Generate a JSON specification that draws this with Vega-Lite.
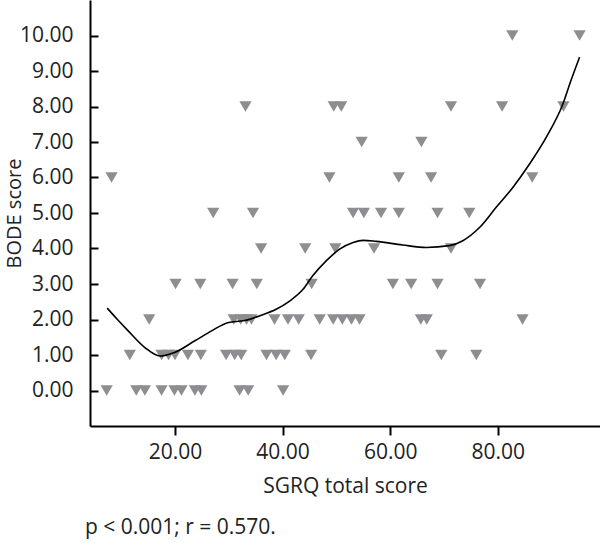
{
  "$schema": "https://vega.github.io/schema/vega-lite/v6.json",
  "width": 510,
  "height": 426,
  "autosize": {"type": "none"},
  "padding": {"left": 90, "top": 0, "right": 0, "bottom": 117},
  "config": {"view": {"stroke": null}, "font": "Open Sans"},
  "title": {"text": "p < 0.001; r = 0.570.", "orient": "bottom", "anchor": "start", "frame": "group", "fontSize": 21, "fontWeight": "normal", "color": "#222222", "offset": 21, "dx": -5},
  "datasets": {
    "points": [
      {"sgrq": 7.3, "bode": 0}, {"sgrq": 12.8, "bode": 0}, {"sgrq": 14.4, "bode": 0}, {"sgrq": 17.5, "bode": 0}, {"sgrq": 19.9, "bode": 0}, {"sgrq": 21.2, "bode": 0}, {"sgrq": 23.7, "bode": 0}, {"sgrq": 24.9, "bode": 0}, {"sgrq": 32.0, "bode": 0}, {"sgrq": 33.6, "bode": 0}, {"sgrq": 40.1, "bode": 0},
      {"sgrq": 11.6, "bode": 1}, {"sgrq": 17.5, "bode": 1}, {"sgrq": 18.8, "bode": 1}, {"sgrq": 20.0, "bode": 1}, {"sgrq": 22.4, "bode": 1}, {"sgrq": 24.8, "bode": 1}, {"sgrq": 29.5, "bode": 1}, {"sgrq": 31.1, "bode": 1}, {"sgrq": 32.3, "bode": 1}, {"sgrq": 37.0, "bode": 1}, {"sgrq": 38.8, "bode": 1}, {"sgrq": 40.4, "bode": 1}, {"sgrq": 45.3, "bode": 1}, {"sgrq": 69.5, "bode": 1}, {"sgrq": 76.0, "bode": 1},
      {"sgrq": 15.2, "bode": 2}, {"sgrq": 30.9, "bode": 2}, {"sgrq": 32.2, "bode": 2}, {"sgrq": 33.3, "bode": 2}, {"sgrq": 34.2, "bode": 2}, {"sgrq": 38.5, "bode": 2}, {"sgrq": 41.0, "bode": 2}, {"sgrq": 43.0, "bode": 2}, {"sgrq": 46.9, "bode": 2}, {"sgrq": 49.4, "bode": 2}, {"sgrq": 51.1, "bode": 2}, {"sgrq": 52.8, "bode": 2}, {"sgrq": 54.3, "bode": 2}, {"sgrq": 65.7, "bode": 2}, {"sgrq": 66.8, "bode": 2}, {"sgrq": 84.6, "bode": 2},
      {"sgrq": 20.1, "bode": 3}, {"sgrq": 24.7, "bode": 3}, {"sgrq": 30.7, "bode": 3}, {"sgrq": 35.2, "bode": 3}, {"sgrq": 45.4, "bode": 3}, {"sgrq": 60.5, "bode": 3}, {"sgrq": 63.9, "bode": 3}, {"sgrq": 68.8, "bode": 3}, {"sgrq": 76.7, "bode": 3},
      {"sgrq": 36.0, "bode": 4}, {"sgrq": 44.2, "bode": 4}, {"sgrq": 49.8, "bode": 4}, {"sgrq": 57.0, "bode": 4}, {"sgrq": 71.3, "bode": 4},
      {"sgrq": 27.1, "bode": 5}, {"sgrq": 34.5, "bode": 5}, {"sgrq": 53.1, "bode": 5}, {"sgrq": 55.1, "bode": 5}, {"sgrq": 58.3, "bode": 5}, {"sgrq": 61.6, "bode": 5}, {"sgrq": 68.8, "bode": 5}, {"sgrq": 74.7, "bode": 5},
      {"sgrq": 8.2, "bode": 6}, {"sgrq": 48.7, "bode": 6}, {"sgrq": 61.6, "bode": 6}, {"sgrq": 67.6, "bode": 6}, {"sgrq": 86.4, "bode": 6},
      {"sgrq": 54.7, "bode": 7}, {"sgrq": 65.8, "bode": 7},
      {"sgrq": 33.1, "bode": 8}, {"sgrq": 49.5, "bode": 8}, {"sgrq": 50.9, "bode": 8}, {"sgrq": 71.3, "bode": 8}, {"sgrq": 80.8, "bode": 8}, {"sgrq": 92.2, "bode": 8},
      {"sgrq": 82.7, "bode": 10}, {"sgrq": 95.2, "bode": 10}
    ],
    "curve": [
      {"sgrq": 7.4, "bode": 2.32}, {"sgrq": 9.3, "bode": 2.0}, {"sgrq": 11.3, "bode": 1.68}, {"sgrq": 14.4, "bode": 1.21}, {"sgrq": 17.2, "bode": 0.97},
      {"sgrq": 19.9, "bode": 1.07}, {"sgrq": 23.7, "bode": 1.4}, {"sgrq": 26.8, "bode": 1.68}, {"sgrq": 29.8, "bode": 1.91}, {"sgrq": 32.9, "bode": 1.97},
      {"sgrq": 36.0, "bode": 2.12}, {"sgrq": 38.8, "bode": 2.29}, {"sgrq": 41.3, "bode": 2.52}, {"sgrq": 43.8, "bode": 2.85}, {"sgrq": 45.6, "bode": 3.23},
      {"sgrq": 48.1, "bode": 3.65}, {"sgrq": 50.6, "bode": 3.98}, {"sgrq": 53.1, "bode": 4.17}, {"sgrq": 55.0, "bode": 4.23}, {"sgrq": 57.4, "bode": 4.2},
      {"sgrq": 62.3, "bode": 4.1}, {"sgrq": 66.7, "bode": 4.03}, {"sgrq": 71.0, "bode": 4.08}, {"sgrq": 73.5, "bode": 4.22}, {"sgrq": 76.6, "bode": 4.59},
      {"sgrq": 79.7, "bode": 5.16}, {"sgrq": 82.8, "bode": 5.72}, {"sgrq": 85.9, "bode": 6.38}, {"sgrq": 89.0, "bode": 7.13}, {"sgrq": 92.1, "bode": 8.07},
      {"sgrq": 93.6, "bode": 8.73}, {"sgrq": 95.2, "bode": 9.39}
    ]
  },
  "encoding": {
    "x": {
      "field": "sgrq", "type": "quantitative",
      "scale": {"domain": [4.2, 99], "nice": false, "zero": false},
      "axis": {
        "values": [20, 40, 60, 80], "format": ".2f", "title": "SGRQ total score", "grid": false,
        "domainColor": "#000000", "domainWidth": 2, "tickColor": "#000000", "tickWidth": 2, "tickSize": 9,
        "labelFontSize": 21, "labelColor": "#222222", "labelPadding": 6,
        "titleFontSize": 21, "titleFontWeight": "normal", "titleColor": "#222222", "titlePadding": 13
      }
    },
    "y": {
      "field": "bode", "type": "quantitative",
      "scale": {"domain": [-1, 11], "nice": false, "zero": false},
      "axis": {
        "values": [0, 1, 2, 3, 4, 5, 6, 7, 8, 9, 10], "format": ".2f", "title": "BODE score", "grid": false,
        "domainColor": "#000000", "domainWidth": 2, "tickColor": "#000000", "tickWidth": 2, "tickSize": -8,
        "labelFontSize": 21, "labelColor": "#222222", "labelPadding": 25,
        "titleFontSize": 20, "titleFontWeight": "normal", "titleColor": "#222222",
        "titleX": -70, "titleBaseline": "alphabetic", "titleAlign": "center", "titleAngle": 270
      }
    }
  },
  "layer": [
    {
      "data": {"name": "points"},
      "mark": {"type": "point", "shape": "triangle-down", "filled": true, "size": 150, "color": "#8e8e92", "opacity": 1}
    },
    {
      "data": {"name": "curve"},
      "mark": {"type": "line", "color": "#000000", "strokeWidth": 1.6, "interpolate": "monotone"}
    }
  ]
}
